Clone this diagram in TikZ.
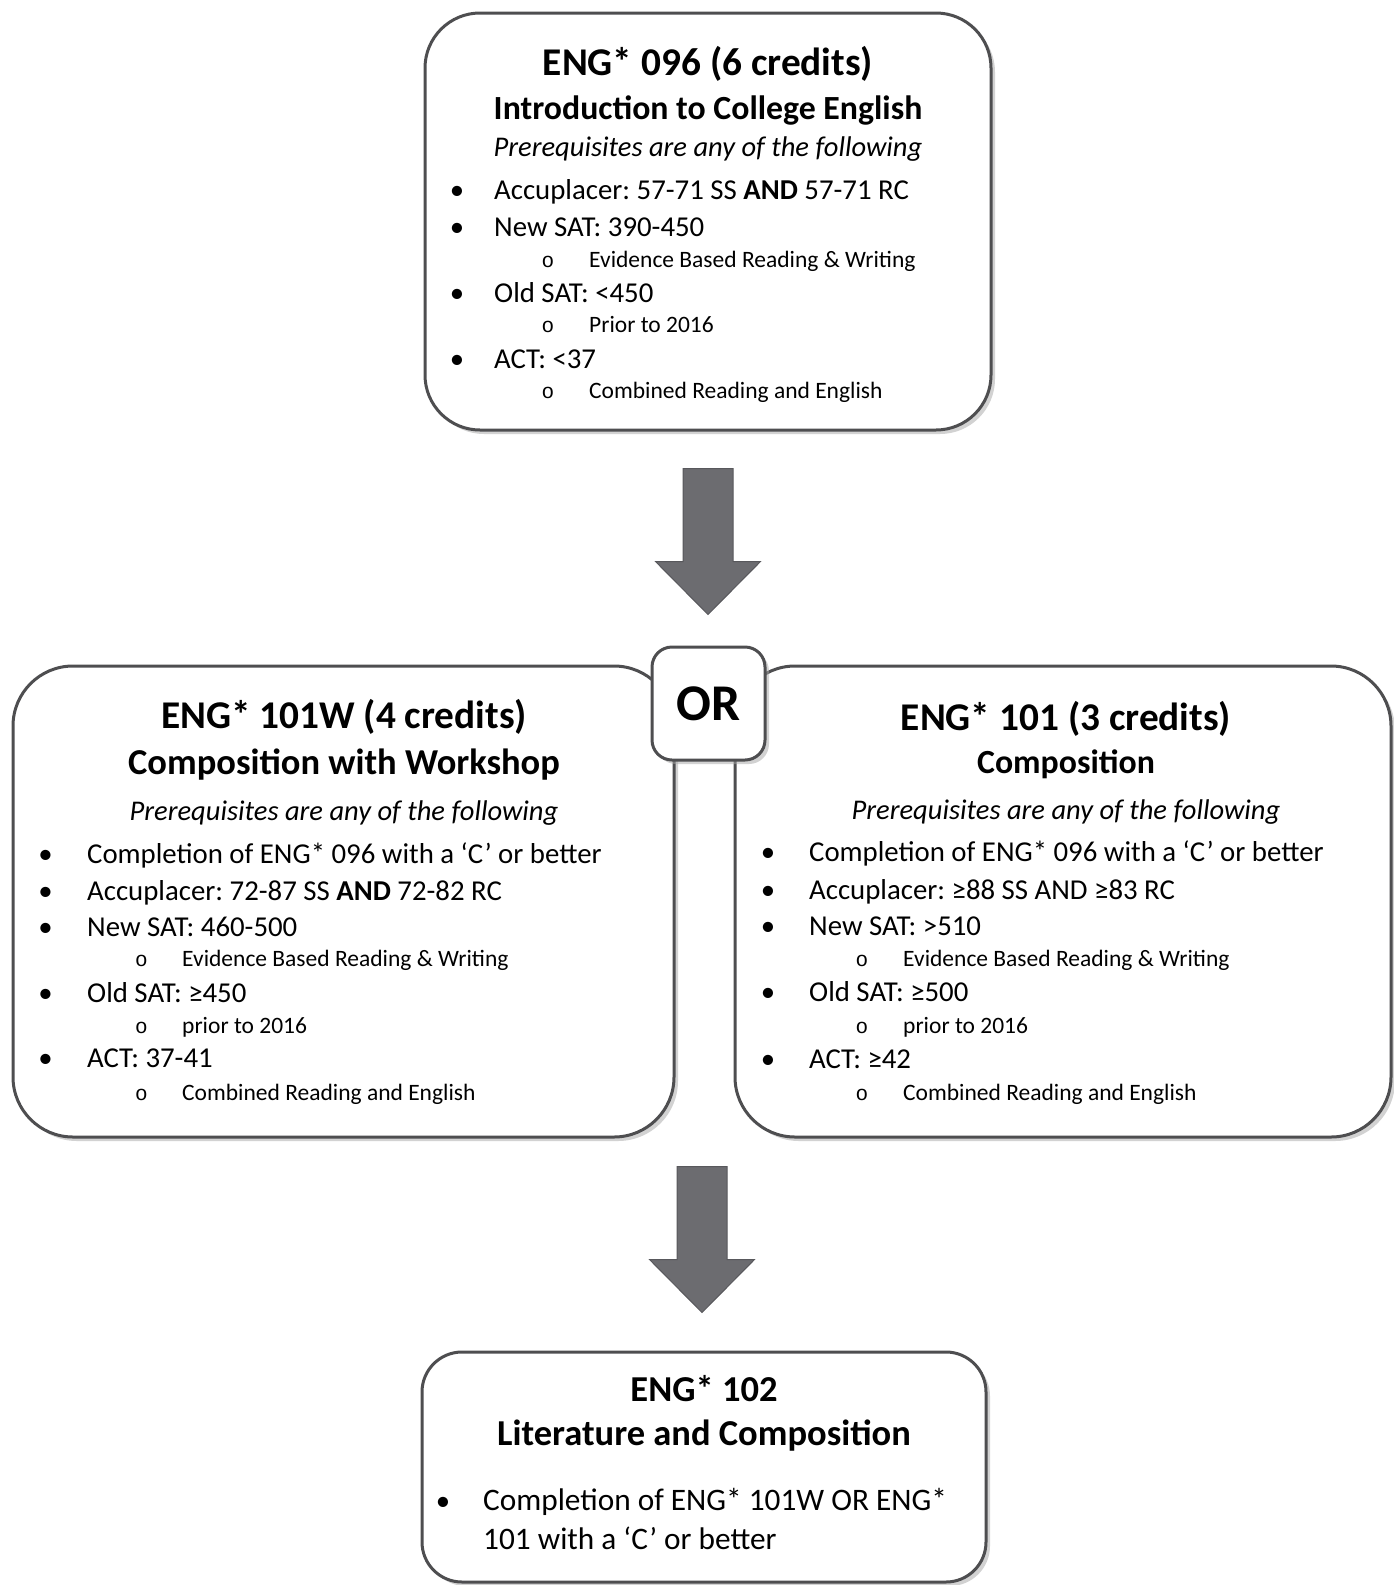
\documentclass[tikz,border=0pt]{standalone}
\usepackage{fontspec}
\setmainfont{Carlito}
\newfontfamily\ringfont{Liberation Mono}
\usetikzlibrary{shadows,calc}
\definecolor{edgegray}{RGB}{78,78,80}
\definecolor{arrowgray}{RGB}{108,108,112}
\definecolor{arrowedge}{RGB}{88,88,92}
\frenchspacing

\begin{document}
\begin{tikzpicture}[x=1pt,y=-1pt,
  box/.style={draw=edgegray,line width=3pt,fill=white,inner sep=0pt,
    drop shadow={shadow xshift=4pt,shadow yshift=-4pt,fill=black!35}},
  bigarrow/.style={fill=arrowgray,draw=arrowedge,line width=1pt,line join=miter},
  course/.style={anchor=mid,yshift=-10pt,font=\fontsize{39.3}{44}\selectfont\bfseries},
  ctitle/.style={anchor=mid,yshift=-9pt,font=\fontsize{33.8}{38}\selectfont\bfseries},
  prereq/.style={anchor=mid,yshift=-8pt,font=\fontsize{28.5}{32}\selectfont\itshape},
  item/.style={anchor=mid west,inner sep=0pt,yshift=-7pt,font=\fontsize{28.8}{32}\selectfont},
  subitem/.style={anchor=mid west,inner sep=0pt,yshift=-6pt,font=\fontsize{23.5}{26}\selectfont},
  dot/.style={anchor=mid,inner sep=0pt,yshift=-7pt,font=\fontsize{28.8}{32}\selectfont},
  ring/.style={anchor=mid,inner sep=0pt,yshift=-6pt,font=\ringfont\fontsize{21}{24}\selectfont}]
\useasboundingbox (0,0) rectangle (1393,1585);

% boxes
\node[box,rounded corners=55pt,minimum width=566,minimum height=417] (top) at (708,221.5) {};
\node[box,rounded corners=60pt,minimum width=661,minimum height=471] (left) at (343.5,901.5) {};
\node[box,rounded corners=60pt,minimum width=656,minimum height=471] (right) at (1063,901.5) {};
\node[box,rounded corners=40pt,minimum width=564,minimum height=230] (bot) at (704,1467) {};
\node[box,rounded corners=20pt,minimum width=113,minimum height=113,
  font=\fontsize{51.5}{56}\selectfont\bfseries] (or) at (708.5,703.5) {OR};

% block arrows
\coordinate (a1) at ($(top.south)+(0,37)$);
\coordinate (a2) at ($(bot.north)+(-2,-184)$);
\foreach \a in {a1,a2}
\draw[bigarrow] (\a) ++(-25,0) -- ++(0,93) -- ++(-27.5,0) -- ++(52.5,53)
  -- ++(52.5,-53) -- ++(-27.5,0) -- ++(0,-93) -- cycle;

% ENG 096
\node[course] (t1) at (708,62.7) {ENG* 096 (6 credits)};
\node[ctitle] (t2) at (708,108) {Introduction to College English};
\node[prereq] (t3) at (708,146.6) {Prerequisites are any of the following};
\foreach \y/\txt [count=\i] in {190/{Accuplacer: 57-71 SS \textbf{AND} 57-71 RC},
  227.5/{New SAT: 390-450},293/{Old SAT: <450},359/{ACT: <37}} {
\node[dot] (tb\i) at (457,\y) {•};
\node[item] (ti\i) at (494,\y) {\txt};
}
\foreach \y/\txt [count=\i] in {259/{Evidence Based Reading \& Writing},
  324.5/{Prior to 2016},390/{Combined Reading and English}} {
\node[ring] (tr\i) at (548,\y) {o};
\node[subitem] (ts\i) at (589,\y) {\txt};
}

% ENG 101W
\node[course] (l1) at (344,715.7) {ENG* 101W (4 credits)};
\node[ctitle,yshift=-1pt,font=\fontsize{36.5}{40}\selectfont\bfseries] (l2) at (344,762.2) {Composition with Workshop};
\node[prereq] (l3) at (344,809.7) {Prerequisites are any of the following};
\foreach \y/\txt [count=\i] in {854/{Completion of ENG* 096 with a `C' or better},
  890.6/{Accuplacer: 72-87 SS \textbf{AND} 72-82 RC},927/{New SAT: 460-500},
  992.7/{Old SAT: ≥450},1058.4/{ACT: 37-41}} {
\node[dot] (lb\i) at (45.5,\y) {•};
\node[item] (li\i) at (87,\y) {\txt};
}
\foreach \y/\txt [count=\i] in {958.3/{Evidence Based Reading \& Writing},
  1025/{prior to 2016},1091.8/{Combined Reading and English}} {
\node[ring] (lr\i) at (141.5,\y) {o};
\node[subitem] (ls\i) at (182,\y) {\txt};
}

% ENG 101
\node[course] (r1) at (1066,717.7) {ENG* 101 (3 credits)};
\node[ctitle] (r2) at (1066,762.2) {Composition};
\node[prereq] (r3) at (1066,808.7) {Prerequisites are any of the following};
\foreach \y/\txt [count=\i] in {852/{Completion of ENG* 096 with a `C' or better},
  889.6/{Accuplacer: ≥88 SS AND ≥83 RC},926/{New SAT: >510},
  992/{Old SAT: ≥500},1059.5/{ACT: ≥42}} {
\node[dot] (rb\i) at (768,\y) {•};
\node[item] (ri\i) at (809,\y) {\txt};
}
\foreach \y/\txt [count=\i] in {958.3/{Evidence Based Reading \& Writing},
  1025/{prior to 2016},1091.8/{Combined Reading and English}} {
\node[ring] (rr\i) at (862,\y) {o};
\node[subitem] (rs\i) at (903,\y) {\txt};
}

% ENG 102
\node[anchor=mid,yshift=-10pt,font=\fontsize{36.5}{40}\selectfont\bfseries] (b1) at (704,1389) {ENG* 102};
\node[anchor=mid,yshift=-10pt,font=\fontsize{36.5}{40}\selectfont\bfseries] (b2) at (704,1433.5) {Literature and Composition};
\node[dot,yshift=-1pt] (bb1) at (443,1500) {•};
\node[item,yshift=-1pt,font=\fontsize{31.3}{36}\selectfont] (bi1) at (483,1500) {Completion of ENG* 101W OR ENG*};
\node[item,yshift=-1pt,font=\fontsize{31.3}{36}\selectfont] (bi2) at (483,1538.6) {101 with a `C' or better};
\end{tikzpicture}
\end{document}
